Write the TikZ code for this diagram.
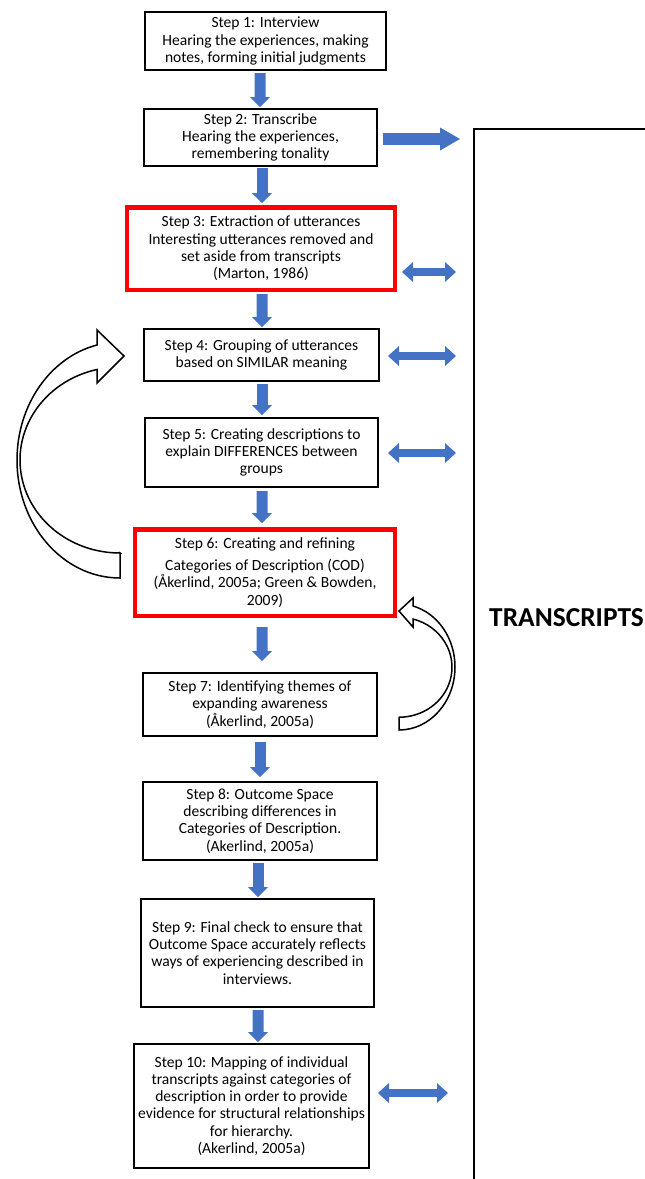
\documentclass[tikz,border=0pt]{standalone}
\usepackage{fontspec}
\setmainfont{Carlito}
\usetikzlibrary{arrows.meta,calc}
\definecolor{flowblue}{HTML}{4472C4}
\definecolor{boxred}{HTML}{FF0000}
\begin{document}
\begin{tikzpicture}[x=1bp,y=-1bp,
  stepbox/.style={draw=black, line width=1.8bp, align=center, inner sep=0pt, fill=white,
    font=\fontsize{15.6}{17.3}\selectfont},
  redbox/.style={stepbox, draw=boxred, line width=4.5bp},
  downarrow/.style={draw=flowblue, line width=11bp, -{Triangle[width=20bp,length=10bp,line width=0pt]}},
  rightarrow/.style={draw=flowblue, line width=12bp, -{Triangle[width=23bp,length=20bp,line width=0pt]}},
  dblarrow/.style={draw=flowblue, line width=8bp,
    {Triangle[width=20bp,length=11bp,line width=0pt]}-{Triangle[width=20bp,length=11bp,line width=0pt]}},
  curvearrow/.style={draw=black, line width=1.5bp, fill=white, line join=miter}
]
\useasboundingbox (0,0) rectangle (645,1179);

% transcripts frame
\node[draw=black, line width=1.8bp, minimum width=400bp, minimum height=1200bp, inner sep=0pt,
  anchor=north west] (tr) at (473,128) {};
\node[font=\bfseries\fontsize{27.5}{30}\selectfont, anchor=west, inner sep=0pt] (trl) at (489,618) {TRANSCRIPTS};

% step boxes
\node[stepbox, minimum width=241.2bp, minimum height=58.2bp] (b1) at (265.5,41)
  {Step 1: Interview\\Hearing the experiences, making\\notes, forming initial judgments};
\node[stepbox, minimum width=233.2bp, minimum height=57.2bp] (b2) at (260.5,137.5)
  {Step 2: Transcribe\\Hearing the experiences,\\remembering tonality};
\node[redbox, minimum width=267.5bp, minimum height=82.5bp] (b3) at (261,248.5)
  {Step 3: Extraction of utterances\\Interesting utterances removed and\\set aside from transcripts\\(Marton, 1986)};
\node[stepbox, minimum width=235.2bp, minimum height=52.2bp] (b4) at (261.5,355)
  {Step 4: Grouping of utterances\\based on SIMILAR meaning};
\node[stepbox, minimum width=233.2bp, minimum height=69.2bp] (b5) at (261.5,452.5)
  {Step 5: Creating descriptions to\\explain DIFFERENCES between\\groups};
\node[redbox, minimum width=259.5bp, minimum height=86.5bp] (b6) at (265,572.5)
  {Step 6: Creating and refining\\[5bp]Categories of Description (COD)\\(Åkerlind, 2005a; Green \& Bowden,\\2009)};
\node[stepbox, minimum width=234.2bp, minimum height=63.2bp] (b7) at (260,704.5)
  {Step 7: Identifying themes of\\expanding awareness\\(Åkerlind, 2005a)};
\node[stepbox, minimum width=234.2bp, minimum height=78.2bp] (b8) at (260,821)
  {Step 8: Outcome Space\\describing differences in\\Categories of Description.\\(Akerlind, 2005a)};
\node[stepbox, minimum width=233.2bp, minimum height=108.2bp] (b9) at (257.5,953)
  {Step 9: Final check to ensure that\\Outcome Space accurately reflects\\ways of experiencing described in\\interviews.};
\node[stepbox, minimum width=235.2bp, minimum height=124.2bp] (b10) at (251.5,1106)
  {Step 10: Mapping of individual\\transcripts against categories of\\description in order to provide\\evidence for structural relationships\\for hierarchy.\\(Akerlind, 2005a)};

% down arrows
\draw[downarrow, shorten <=2bp, shorten >=1bp] ([xshift=-5.5bp]b1.south) -- ([xshift=-0.5bp]b2.north);
\draw[downarrow, shorten <=1bp, shorten >=2bp] ([xshift=1.5bp]b2.south) -- ([xshift=1bp]b3.north);
\draw[downarrow, shorten <=2bp, shorten >=1bp] ([xshift=1bp]b3.south) -- ([xshift=0.5bp]b4.north);
\draw[downarrow, shorten <=2bp, shorten >=2bp] ([xshift=0.5bp]b4.south) -- ([xshift=0.5bp]b5.north);
\draw[downarrow, shorten <=3bp, shorten >=4bp] ([xshift=0.5bp]b5.south) -- ([xshift=-3bp]b6.north);
\draw[downarrow, shorten <=9bp, shorten >=11bp] ([xshift=-3bp]b6.south) -- ([xshift=2bp]b7.north);
\draw[downarrow, shorten <=5bp, shorten >=4bp] (b7.south) -- (b8.north);
\draw[downarrow, shorten <=2bp, shorten >=1bp] ([xshift=-2bp]b8.south) -- ([xshift=0.5bp]b9.north);
\draw[downarrow, shorten <=2bp, shorten >=1bp] ([xshift=0.5bp]b9.south) -- ([xshift=6.5bp]b10.north);

% side arrows to transcripts
\coordinate (p2) at ([yshift=-1.5bp]b2.east);
\coordinate (p3) at ([yshift=-23.5bp]b3.east);
\coordinate (p4) at ([yshift=-1bp]b4.east);
\coordinate (p5) at ([yshift=-0.5bp]b5.east);
\coordinate (p10) at ([yshift=13bp]b10.east);
\draw[rightarrow, shorten <=5bp, shorten >=13bp] (p2) -- (p2 -| tr.west);
\draw[dblarrow, shorten <=5bp, shorten >=17bp] (p3) -- (p3 -| tr.west);
\draw[dblarrow, shorten <=8bp, shorten >=17bp] (p4) -- (p4 -| tr.west);
\draw[dblarrow, shorten <=9bp, shorten >=17bp] (p5) -- (p5 -| tr.west);
\draw[dblarrow, shorten <=8bp, shorten >=25bp] (p10) -- (p10 -| tr.west);

% curved block arrows
\draw[curvearrow] (120,553) -- (120,578)
  arc[start angle=90, end angle=257.1, x radius=103, y radius=118]
  -- (97,330) -- (124,356) -- (97,383) -- (97,369.5)
  arc[start angle=256.7, end angle=90, x radius=100, y radius=93] -- cycle;
\draw[curvearrow] (399,717) -- (399,730)
  arc[start angle=90, end angle=-75.5, x radius=56, y radius=63]
  -- (413,598) -- (399,611) -- (413,627) -- (413,619)
  arc[start angle=-74.7, end angle=90, x radius=53, y radius=50] -- cycle;
\end{tikzpicture}
\end{document}
